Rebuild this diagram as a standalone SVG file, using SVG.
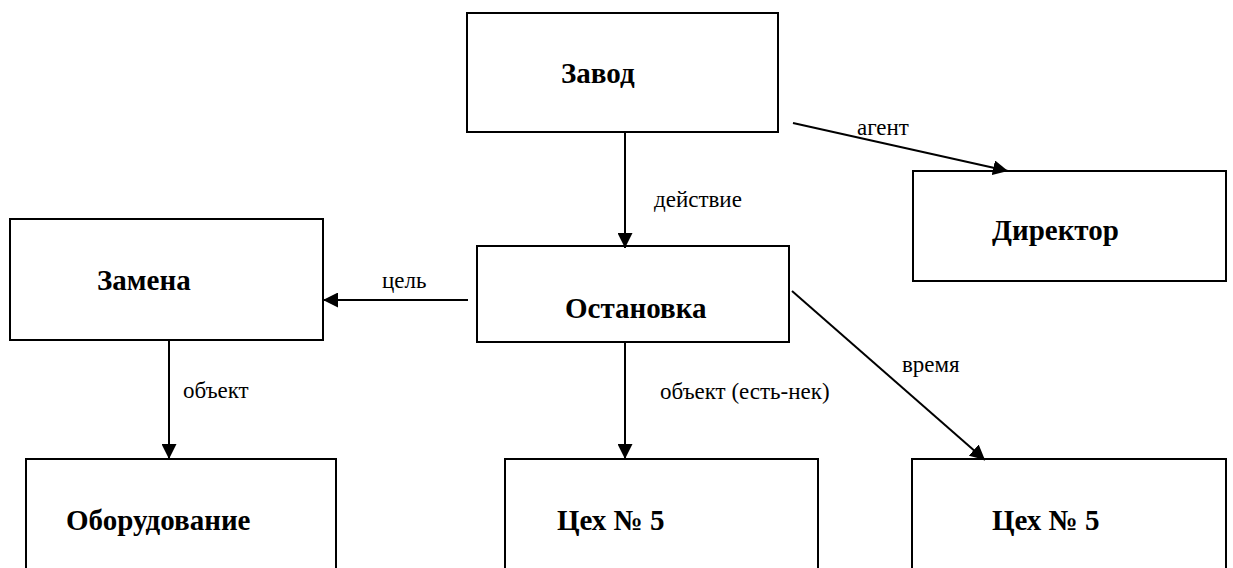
<svg xmlns="http://www.w3.org/2000/svg" width="1233" height="568" viewBox="0 0 1233 568">
<defs>
<marker id="ah" viewBox="0 0 10 10" refX="10" refY="5" markerWidth="15" markerHeight="15" markerUnits="userSpaceOnUse" orient="auto">
<path d="M0,0 L10,5 L0,10 Z" fill="#000"/>
</marker>
<style>
.box{fill:#fff;stroke:#000;stroke-width:2}
.t{font-family:"Liberation Serif",serif;font-weight:bold;font-size:29px;fill:#000}
.l{font-family:"Liberation Serif",serif;font-size:23px;fill:#000}
.c{stroke:#000;stroke-width:2;fill:none;marker-end:url(#ah)}
</style>
</defs>
<rect width="1233" height="568" fill="#fff"/>
<g id="zavod"><rect class="box" x="467" y="13" width="311" height="119"/><text class="t" x="561" y="83">Завод</text></g>
<g id="direktor"><rect class="box" x="913" y="171" width="313" height="110"/><text class="t" x="992" y="240">Директор</text></g>
<g id="ostanovka"><rect class="box" x="477" y="246" width="312" height="96"/><text class="t" x="565" y="318">Остановка</text></g>
<g id="zamena"><rect class="box" x="10" y="219" width="313" height="121"/><text class="t" x="97" y="290">Замена</text></g>
<g id="oborudovanie"><rect class="box" x="26" y="459" width="310" height="120"/><text class="t" x="66" y="530">Оборудование</text></g>
<g id="tseh1"><rect class="box" x="505" y="459" width="313" height="120"/><text class="t" x="557" y="530">Цех № 5</text></g>
<g id="tseh2"><rect class="box" x="912" y="459" width="314" height="120"/><text class="t" x="992" y="530">Цех № 5</text></g>
<g id="connectors">
<line class="c" x1="625" y1="132" x2="625" y2="248"/>
<line class="c" x1="793" y1="123" x2="1008" y2="171"/>
<line class="c" x1="468" y1="300" x2="323" y2="300"/>
<line class="c" x1="169" y1="340" x2="169" y2="459"/>
<line class="c" x1="625" y1="342" x2="625" y2="459"/>
<line class="c" x1="792" y1="291" x2="985" y2="460"/>
<text class="l" x="654" y="207">действие</text>
<text class="l" x="857" y="135">агент</text>
<text class="l" x="382" y="288">цель</text>
<text class="l" x="183" y="398">объект</text>
<text class="l" x="660" y="399">объект (есть-нек)</text>
<text class="l" x="902" y="372">время</text>
</g>
</svg>
